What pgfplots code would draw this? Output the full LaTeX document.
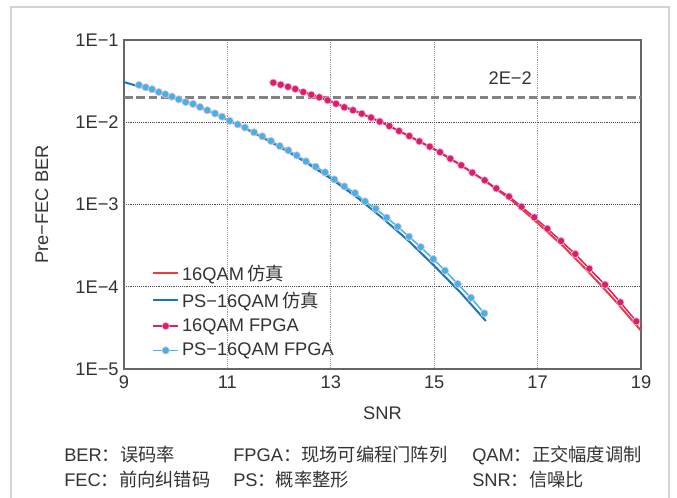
\documentclass[border=0pt]{standalone}
\usepackage{fontspec}
\setmainfont{Liberation Sans}
\newfontfamily\cjk{Noto Sans CJK SC}
\usepackage{pgfplots}
\pgfplotsset{compat=1.18}
\definecolor{txt}{HTML}{333333}
\definecolor{simred}{HTML}{EE3B3B}
\definecolor{simblue}{HTML}{1B75BC}
\definecolor{fpgamag}{HTML}{D81E6C}
\definecolor{fpgacyan}{HTML}{3DB5E6}
\definecolor{halo}{HTML}{F2B8D2}
\definecolor{thr}{HTML}{808285}
\begin{document}
\begin{tikzpicture}
\fill[white] (0,0) rectangle (507.75pt,373.5pt);
\useasboundingbox (0,0) rectangle (507.75pt,373.5pt);
\begin{axis}[at={(93pt,96.75pt)}, anchor=south west, scale only axis,
 width=387.75pt, height=246.75pt,
 xmin=9, xmax=19, ymode=log, ymin=1e-5, ymax=1e-1,
 xtick={9,11,13,15,17,19}, xticklabels={9,11,13,15,17,19},
 ytick={1e-5,1e-4,1e-3,1e-2,1e-1}, yticklabels={1E−5,1E−4,1E−3,1E−2,1E−1},
 yminorticks=false, major tick length=0pt,
 tick label style={font=\fontsize{13.7}{16}\selectfont, text=txt},
 xticklabel style={yshift=-1.5pt},
 yticklabel style={xshift=-0.5pt},
 grid=major,
 x grid style={densely dotted, black!40, line width=0.7pt},
 y grid style={densely dotted, black!70, line width=0.5pt},
 axis line style={black!60, line width=0.8pt},
 xlabel={SNR}, ylabel={Pre−FEC BER},
 label style={font=\fontsize{13.7}{16}\selectfont, text=txt},
 xlabel style={at={(axis description cs:0.5,-0.134)}, anchor=center},
 ylabel style={at={(axis description cs:-0.159,0.5)}, anchor=center},
 legend style={draw=none, fill=none, at={(axis description cs:0.046,0.334)}, anchor=north west,
   font=\fontsize{13.7}{16}\selectfont, text=txt, row sep=3.2pt, cells={anchor=west}},
 legend image code/.code={\draw[mark repeat=2,mark phase=2,#1] plot coordinates {(0pt,0pt) (9.5pt,0pt) (19pt,0pt)};},
]
\addplot[thr, line width=2.2pt, dash pattern=on 6.5pt off 2.7pt, forget plot] coordinates {(9,0.02) (19,0.02)};
\addplot[simred, line width=1.5pt] coordinates {
(11.9,3.05e-2) (12.5,2.317e-2) (13,1.799e-2) (13.5,1.349e-2) (14,9.886e-3) (14.5,6.839e-3)
(15,4.710e-3) (15.5,3.055e-3) (16,1.905e-3) (16.5,1.122e-3) (17,5.957e-4) (17.5,3.090e-4)
(18,1.479e-4) (18.5,6.761e-5) (19,2.924e-5)};
\addlegendentry{16QAM\,{\cjk 仿真}}
\addplot[simblue, line width=1.5pt] coordinates {
(9,3.083e-2) (9.5,2.483e-2) (10,1.972e-2) (10.5,1.496e-2) (11,1.072e-2) (11.5,7.50e-3)
(12,5.070e-3) (12.5,3.311e-3) (13,2.065e-3) (13.5,1.230e-3) (14,6.839e-4) (14.5,3.631e-4)
(15,1.799e-4) (15.5,8.610e-5) (16,3.837e-5)};
\addlegendentry{PS−16QAM\,{\cjk 仿真}}
\addplot[fpgamag, line width=1.1pt, mark=*, mark size=2.75pt, mark options={fill=fpgamag, draw=halo, line width=0.5pt}] coordinates {
(11.888,3.03e-2) (12.031,2.86e-2) (12.172,2.70e-2) (12.313,2.54e-2) (12.468,2.33e-2)
(12.623,2.16e-2) (12.778,2.01e-2) (12.940,1.85e-2) (13.101,1.68e-2) (13.261,1.52e-2)
(13.429,1.40e-2) (13.598,1.27e-2) (13.778,1.14e-2) (13.946,1.02e-2) (14.132,9.00e-3)
(14.319,7.83e-3) (14.518,6.81e-3) (14.712,5.86e-3) (14.913,5.05e-3) (15.112,4.32e-3)
(15.311,3.61e-3) (15.524,3.00e-3) (15.737,2.44e-3) (15.977,1.97e-3) (16.201,1.57e-3)
(16.447,1.25e-3) (16.689,9.40e-4) (16.936,6.98e-4) (17.188,5.08e-4) (17.453,3.60e-4)
(17.729,2.50e-4) (18.000,1.66e-4) (18.304,1.06e-4) (18.600,6.47e-5) (18.909,3.80e-5)};
\addlegendentry{16QAM FPGA}
\addplot[fpgacyan, line width=1.1pt, mark=*, mark size=2.75pt, mark options={fill=fpgacyan, draw=halo, line width=0.5pt}] coordinates {
(9.290,2.84e-2) (9.420,2.66e-2) (9.542,2.52e-2) (9.671,2.33e-2) (9.799,2.19e-2)
(9.928,2.05e-2) (10.058,1.90e-2) (10.193,1.76e-2) (10.335,1.67e-2) (10.470,1.53e-2)
(10.611,1.40e-2) (10.760,1.28e-2) (10.896,1.17e-2) (11.044,1.04e-2) (11.199,9.42e-3)
(11.340,8.63e-3) (11.515,7.55e-3) (11.675,6.75e-3) (11.843,5.92e-3) (12.012,5.14e-3)
(12.178,4.56e-3) (12.340,3.96e-3) (12.520,3.35e-3) (12.708,2.88e-3) (12.888,2.46e-3)
(13.068,2.02e-3) (13.261,1.66e-3) (13.468,1.38e-3) (13.662,1.09e-3) (13.868,8.89e-4)
(14.081,6.92e-4) (14.294,5.37e-4) (14.513,4.06e-4) (14.739,3.04e-4) (14.983,2.17e-4)
(15.209,1.57e-4) (15.455,1.08e-4) (15.712,7.35e-5) (15.969,4.75e-5)};
\addlegendentry{PS−16QAM FPGA}
\node[font=\fontsize{13.7}{16}\selectfont, text=txt] at (axis cs:16.47,0.0345) {2E−2};
\end{axis}
\begin{scope}[x=0.75pt, y=-0.75pt, shift={(0pt,373.5pt)}]
\draw[black!17, line width=1.5pt] (11,510) -- (11,7) -- (669,7) -- (669,510);
\begin{scope}[every node/.style={anchor=base west, inner sep=0pt, text=txt, font=\fontsize{13.7}{16}\selectfont}]
\node at (64,462) {BER{\cjk ：误码率}};
\node at (233,462) {FPGA{\cjk ：现场可编程门阵列}};
\node at (472,462) {QAM{\cjk ：正交幅度调制}};
\node at (64,487) {FEC{\cjk ：前向纠错码}};
\node at (233,487) {PS{\cjk ：概率整形}};
\node at (472,487) {SNR{\cjk ：信噪比}};
\end{scope}
\end{scope}
\end{tikzpicture}
\end{document}
